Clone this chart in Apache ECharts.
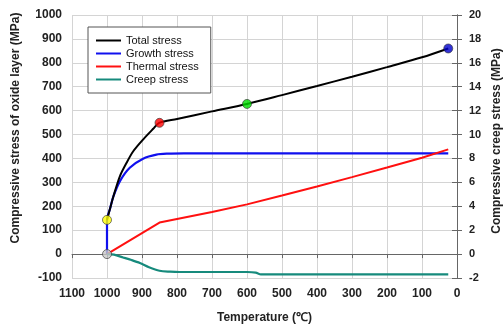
<!DOCTYPE html>
<html>
<head>
<meta charset="utf-8">
<script src="https://cdn.jsdelivr.net/npm/echarts@6/dist/echarts.min.js"></script>
<style>
  html, body { margin: 0; padding: 0; background: #fff; }
  #main { width: 504px; height: 329px; }
</style>
</head>
<body>
<div id="main"></div>
<script>
// temperature (℃) on x, stress on y
var totalT = [1000, 991, 982, 963, 944, 925, 897, 868, 851, 800, 700, 600, 500, 400, 300, 200, 100, 25];
var totalS = [143, 192, 240, 326, 382, 430, 479, 524, 549, 565, 597, 628, 665, 703, 742, 782, 823, 860];

var growthT = [1000, 1000, 991, 982, 963, 935, 897, 859, 826, 780, 700, 600, 500, 400, 300, 200, 100, 25];
var growthS = [0, 143, 192, 240, 305, 361, 399, 416, 420, 421, 421, 421, 421, 421, 421, 421, 421, 421];

var thermalT = [1000, 850, 700, 600, 500, 400, 300, 200, 100, 25];
var thermalS = [0, 132, 176, 208, 245, 283, 322, 362, 403, 438];

// creep stress uses the right axis
var creepT = [1000, 980, 954, 930, 906, 880, 850, 820, 792, 700, 600, 575, 560, 25];
var creepS = [0, -0.05, -0.28, -0.5, -0.75, -1.1, -1.39, -1.47, -1.5, -1.5, -1.5, -1.55, -1.7, -1.7];

var markT = [1000, 1000, 850, 600, 25];
var markS = [0, 143, 549, 628, 860];
var markColors = ['#c8c8c8', '#ffff00', '#ff0000', '#00dd00', '#0000cc'];

function pairs(xs, ys) {
  return xs.map(function (x, i) { return [x, ys[i]]; });
}

var font = 'Arial, "Liberation Sans", sans-serif';
var axisGray = '#666';
var plain = function (v) { return String(v); };

var chart = echarts.init(document.getElementById('main'));
chart.setOption({
  animation: false,
  grid: { left: 72, right: 47, top: 15, bottom: 50 },
  legend: {
    orient: 'vertical',
    left: 88, top: 27,
    padding: [8, 12, 8, 8],
    itemWidth: 25, itemHeight: 2, itemGap: 2,
    icon: 'rect',
    borderColor: '#555', borderWidth: 1,
    backgroundColor: '#fff',
    textStyle: { fontFamily: font, fontSize: 11, color: '#111', lineHeight: 11 },
    data: ['Total stress', 'Growth stress', 'Thermal stress', 'Creep stress']
  },
  xAxis: {
    type: 'value', inverse: true, min: 0, max: 1100, interval: 100,
    name: 'Temperature (℃)', nameLocation: 'middle', nameGap: 34,
    nameTextStyle: { fontFamily: font, fontSize: 12, fontWeight: 'bold', color: '#222' },
    axisLine: { show: true, lineStyle: { color: axisGray } },
    axisTick: { show: true, length: 4, lineStyle: { color: axisGray } },
    axisLabel: { margin: 10, formatter: plain, fontFamily: font, fontSize: 12, fontWeight: 'bold', color: '#222' },
    splitLine: { show: true, lineStyle: { color: '#d4d4d4' } }
  },
  yAxis: [{
    type: 'value', min: -100, max: 1000, interval: 100,
    axisLine: { show: true, lineStyle: { color: axisGray } },
    axisTick: { show: true, length: 5, lineStyle: { color: axisGray } },
    axisLabel: { margin: 10, formatter: plain, fontFamily: font, fontSize: 12, fontWeight: 'bold', color: '#222' },
    splitLine: { show: true, lineStyle: { color: '#d4d4d4' } }
  }, {
    type: 'value', min: -2, max: 20, interval: 2, position: 'right',
    axisLine: { show: true, lineStyle: { color: axisGray } },
    axisTick: { show: true, length: 5, lineStyle: { color: axisGray } },
    axisLabel: { margin: 12, formatter: plain, fontFamily: font, fontSize: 11, fontWeight: 'bold', color: '#222' },
    splitLine: { show: false }
  }],
  graphic: [{
    type: 'text', rotation: Math.PI / 2,
    x: 16, y: 128,
    style: {
      text: 'Compressive stress of oxide layer (MPa)',
      font: 'bold 12px ' + font, fill: '#222',
      align: 'center', verticalAlign: 'middle'
    }
  }, {
    type: 'text', rotation: Math.PI / 2,
    x: 497, y: 141,
    style: {
      text: 'Compressive creep stress (MPa)',
      font: 'bold 12px ' + font, fill: '#222',
      align: 'center', verticalAlign: 'middle'
    }
  }],
  series: [{
    name: 'Growth stress', type: 'line', data: pairs(growthT, growthS),
    showSymbol: false, smooth: 0.3, color: '#1010ee', lineStyle: { width: 2.2 }, z: 2
  }, {
    name: 'Total stress', type: 'line', data: pairs(totalT, totalS),
    showSymbol: false, smooth: 0.3, color: '#000', lineStyle: { width: 2 }, z: 3
  }, {
    name: 'Thermal stress', type: 'line', data: pairs(thermalT, thermalS),
    showSymbol: false, color: '#ff1010', lineStyle: { width: 2 }, z: 2
  }, {
    name: 'Creep stress', type: 'line', yAxisIndex: 1, data: pairs(creepT, creepS),
    showSymbol: false, smooth: 0.3, color: '#168a7c', lineStyle: { width: 2.2 }, z: 2
  }, {
    name: 'points', type: 'scatter', symbolSize: 9, z: 5,
    data: markT.map(function (t, i) {
      return { value: [t, markS[i]], itemStyle: { color: markColors[i], borderColor: '#333', borderWidth: 0.8 } };
    })
  }]
});
</script>
</body>
</html>
